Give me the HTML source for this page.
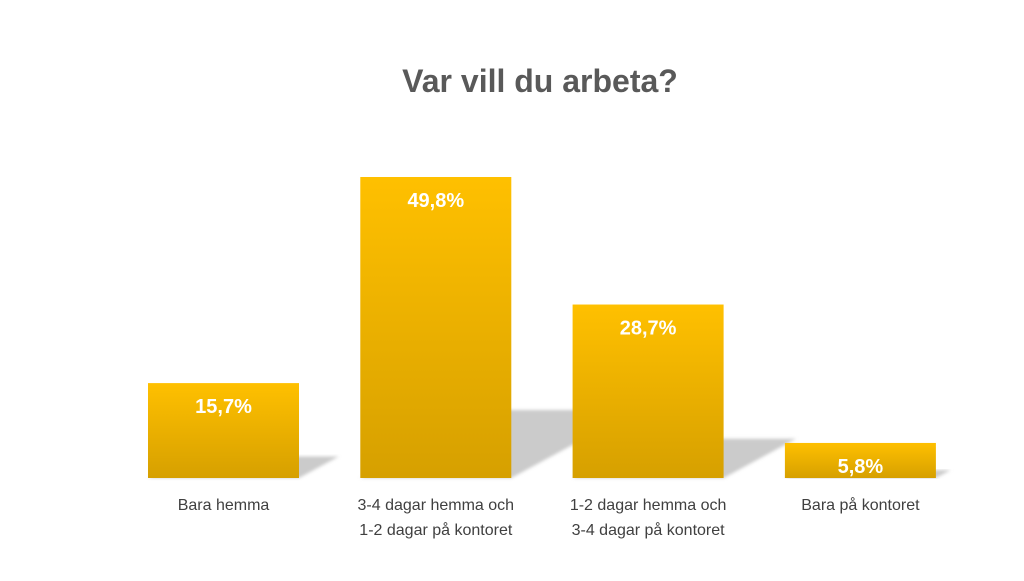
<!DOCTYPE html>
<html><head><meta charset="utf-8"><style>
body{margin:0;background:#fff;width:1024px;height:576px;overflow:hidden;font-family:"Liberation Sans",sans-serif}
</style></head><body>
<svg width="1024" height="576">
<defs>
<linearGradient id="g" x1="0" y1="0" x2="0" y2="1"><stop offset="0" stop-color="#FFC000"/><stop offset="1" stop-color="#D6A000"/></linearGradient>
<filter id="b"><feGaussianBlur stdDeviation="1.5"/></filter>
</defs>
<text x="540" y="92" text-anchor="middle" font-size="32" font-weight="bold" fill="#595959">Var vill du arbeta?</text>
<g id="shadows"></g><g id="bars"></g>
</svg>
<script>
const categories=[["Bara hemma"],["3-4 dagar hemma och","1-2 dagar på kontoret"],["1-2 dagar hemma och","3-4 dagar på kontoret"],["Bara på kontoret"]];
const values=[15.7,49.8,28.7,5.8];
const labels=["15,7%","49,8%","28,7%","5,8%"];
const NS="http://www.w3.org/2000/svg";
const base=478,scale=301/49.8,x0=148,step=212.3,bw=151;
const y=v=>base-v*scale;
const sh=document.getElementById('shadows'),bg=document.getElementById('bars');
values.forEach((v,i)=>{
 const xl=x0+i*step,xr=xl+bw,h=base-y(v),s=0.226*h,dx=s*1.85;
 const p=document.createElementNS(NS,'polygon');
 
 
 p.setAttribute('points',`${xl},${base} ${xr},${base} ${xr+dx},${base-s} ${xl+dx},${base-s}`);
 p.setAttribute('fill','#cbcbcb');p.setAttribute('filter','url(#b)');sh.appendChild(p);
 const r=document.createElementNS(NS,'rect');
 
 
 r.setAttribute('x',xl);r.setAttribute('y',y(v));r.setAttribute('width',bw);r.setAttribute('height',h);r.setAttribute('fill','url(#g)');bg.appendChild(r);
 const t=document.createElementNS(NS,'text');
 
 
 t.setAttribute('x',xl+bw/2);t.setAttribute('y',y(v)+30);t.setAttribute('text-anchor','middle');t.setAttribute('font-size','20');t.setAttribute('font-weight','bold');t.setAttribute('fill','#fff');t.textContent=labels[i];bg.appendChild(t);
 categories[i].forEach((line,j)=>{
  const c=document.createElementNS(NS,'text');
  
  
  c.setAttribute('x',xl+bw/2);c.setAttribute('y',510+j*25);c.setAttribute('text-anchor','middle');c.setAttribute('font-size','16');c.setAttribute('fill','#404040');c.textContent=line;bg.appendChild(c);
 });
});
</script>
</body></html>
